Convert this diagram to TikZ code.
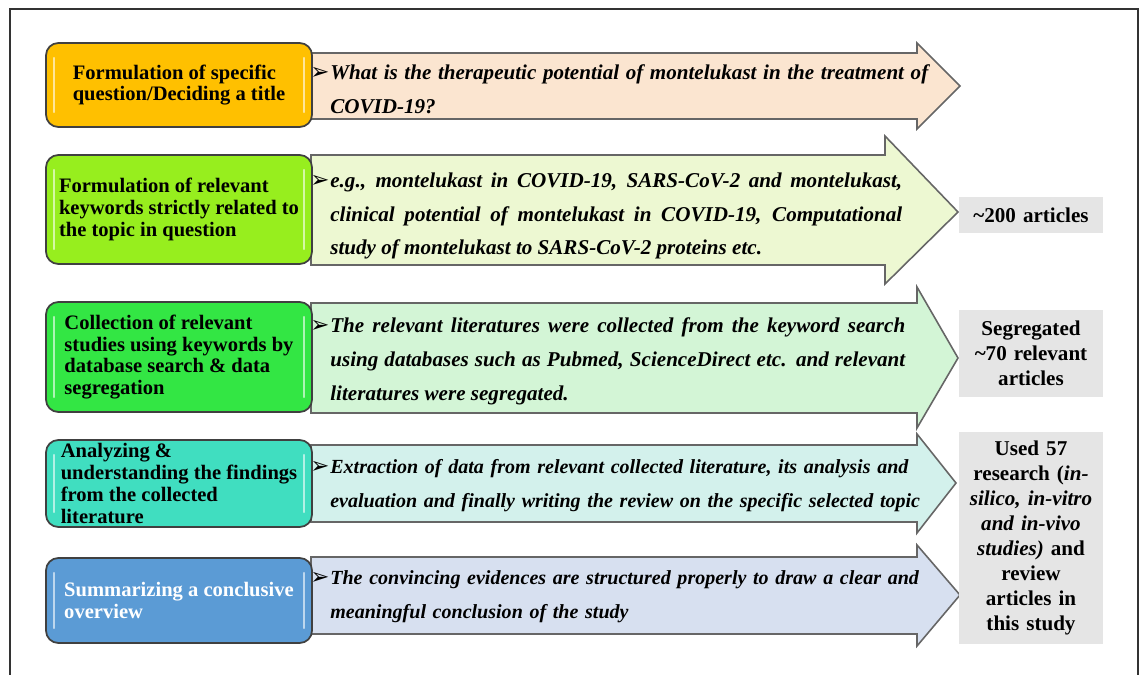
\documentclass[tikz,border=0pt]{standalone}
\usepackage{fontspec}
\setmainfont{Liberation Serif}
\newfontfamily\bulfont{DejaVu Sans}
\usetikzlibrary{positioning}

\definecolor{stepgold}{HTML}{FFC000}
\definecolor{steplime}{HTML}{97EE1E}
\definecolor{stepgreen}{HTML}{33E644}
\definecolor{stepteal}{HTML}{40DEC0}
\definecolor{stepblue}{HTML}{5B9BD5}
\definecolor{arrowpeach}{HTML}{FBE5D0}
\definecolor{arrowlime}{HTML}{EDF8D2}
\definecolor{arrowgreen}{HTML}{D3F5D6}
\definecolor{arrowteal}{HTML}{D3F1EC}
\definecolor{arrowblue}{HTML}{D7E0F0}
\newcommand{\itemarrow}{\noindent\llap{{\bulfont\mdseries\upshape\fontsize{13}{13}\selectfont ➢}\hspace{0.5pt}}}

\begin{document}
\begin{tikzpicture}[x=0.02cm, y=-0.02cm,
    stepbox/.style={draw=black!75, line width=1pt, rounded corners=7pt, minimum width=5.32cm,
      align=left, inner sep=0pt, font=\fontsize{11.7}{12.4}\selectfont\bfseries},
    arrowbody/.style={draw=black!60, line width=0.9pt, line join=miter},
    desc/.style={anchor=west, inner sep=0pt, font=\fontsize{12}{19.3}\selectfont\bfseries\itshape},
    smalldesc/.style={desc, font=\fontsize{11.4}{19.3}\selectfont\bfseries\itshape},
    countbox/.style={fill=black!10, text width=2.88cm, align=center, inner sep=0pt,
      font=\fontsize{12}{14.2}\selectfont\bfseries},
    gloss/.style={white, line width=1.3pt, opacity=.6, line cap=round}]
  \useasboundingbox (0,0) rectangle (1143,674);
  % frame
  \draw[black!80, line width=0.7pt] (10,690) -- (10,9) -- (1138,9) -- (1138,690);
  % arrows
  \foreach \yt/\yb/\ht/\hb/\ty/\hx/\tx/\col in {53/119/43/129/86/917/960/arrowpeach,
      155/265/136/284/212/885/958/arrowlime, 303/413/287/428/358/917/958/arrowgreen,
      445/522/434/533/483/917/956/arrowteal, 557/634/545/646/595/917/960/arrowblue}
    \draw[arrowbody, fill=\col] (311,\yt) -- (\hx,\yt) -- (\hx,\ht) -- (\tx,\ty)
      -- (\hx,\hb) -- (\hx,\yb) -- (311,\yb) -- cycle;
  % steps
  \node[stepbox, fill=stepgold, minimum height=1.68cm] (s1) at (179,85)
    {Formulation of specific\\question/Deciding a title};
  \node[stepbox, fill=steplime, minimum height=2.18cm] (s2) at (179,209.5)
    {Formulation of relevant\\keywords strictly related to\\the topic in question};
  \node[stepbox, fill=stepgreen, minimum height=2.2cm] (s3) at (179,357)
    {Collection of relevant\\studies using keywords by\\database search \& data\\segregation};
  \node[stepbox, fill=stepteal, minimum height=1.74cm] (s4) at (179,483.5)
    {Analyzing \&\\understanding the findings\\from the collected\\literature};
  \node[stepbox, fill=stepblue, minimum height=1.7cm, text=white] (s5) at (179,600.5)
    {Summarizing a conclusive\\overview};
  \foreach \n in {s1,s2,s3,s4,s5} {
    \draw[gloss] ([xshift=5pt,yshift=-9pt]\n.north west) -- ([xshift=5pt,yshift=9pt]\n.south west);
    \draw[gloss] ([xshift=-5pt,yshift=-9pt]\n.north east) -- ([xshift=-5pt,yshift=9pt]\n.south east);
  }
  % descriptions
  \node[desc, text width=11.96cm, align=justify] (d1) at (330,89)
    {\itemarrow What is the therapeutic potential of montelukast in the treatment of\linebreak COVID-19?};
  \node[desc, text width=11.44cm, align=justify] (d2) at (330,216)
    {\itemarrow e.g., montelukast in COVID-19, SARS-CoV-2 and montelukast,\linebreak
     clinical potential of montelukast in COVID-19, Computational\linebreak
     study of montelukast to SARS-CoV-2 proteins etc.};
  \node[desc, text width=11.5cm, align=justify] (d3) at (330,361)
    {\itemarrow The relevant literatures were collected from the keyword search\linebreak
     using databases such as Pubmed, ScienceDirect etc. and relevant\linebreak
     literatures were segregated.};
  \node[smalldesc, text width=12.2cm, align=left] (d4) at (330,486)
    {\itemarrow Extraction of data from relevant collected literature, its analysis and\\
     evaluation and finally writing the review on the specific selected topic};
  \node[smalldesc, text width=12.2cm, align=left] (d5) at (330,596.5)
    {\itemarrow The convincing evidences are structured properly to draw a clear and\\
     meaningful conclusion of the study};
  % counts
  \node[countbox, minimum height=0.72cm] (c1) at (1031,215) {\textasciitilde200 articles};
  \node[countbox, minimum height=1.74cm] (c2) at (1031,353.5)
    {Segregated\\\textasciitilde70 relevant\\articles};
  \node[countbox, minimum height=4.24cm] (c3) at (1031,538)
    {Used 57\\research (\textit{in-}\\\textit{silico, in-vitro}\\\textit{and in-vivo}\\\textit{studies)} and\\review\\articles in\\this study};
\end{tikzpicture}
\end{document}
